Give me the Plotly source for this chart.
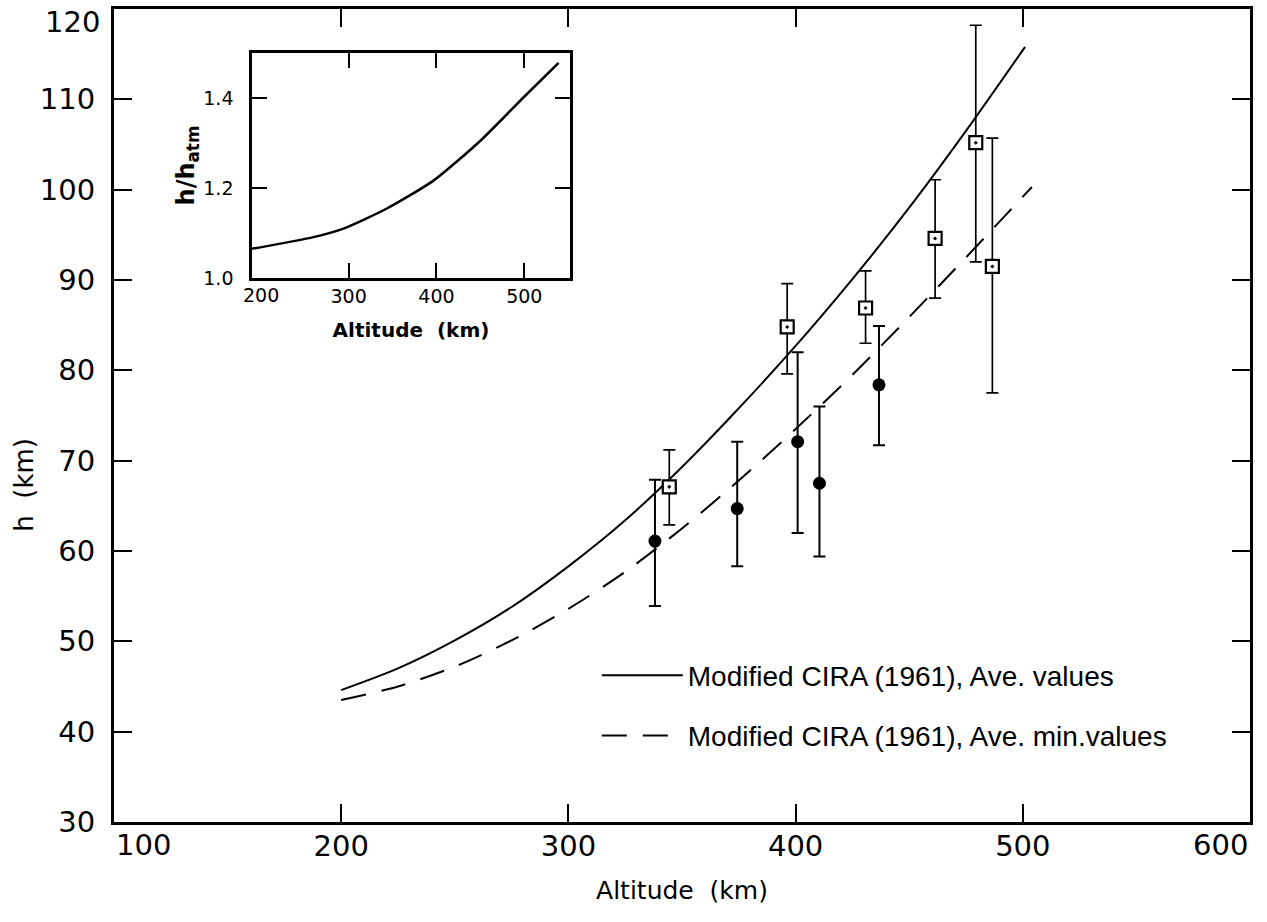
import plotly.graph_objects as go

# ---- data ----
# Main panel model curves
alt_ave = [200, 225, 250, 275, 300, 325, 350, 375, 400, 425, 450, 475, 501]
h_ave = [44.6, 47.0, 50.1, 53.8, 58.3, 63.4, 69.3, 75.8, 82.7, 90.1, 98.0, 106.5, 115.8]
alt_min = [200, 225, 250, 275, 300, 325, 350, 375, 400, 425, 450, 475, 504]
h_min = [43.5, 45.0, 47.2, 50.1, 53.6, 57.7, 62.5, 67.8, 73.5, 79.5, 85.9, 92.5, 100.3]

# Measured values, filled circles
circ_alt = [338.1, 374.3, 400.9, 410.5, 436.7]
circ_h = [61.1, 64.7, 72.1, 67.5, 78.4]
circ_hi = [67.9, 72.1, 82.0, 76.0, 84.9]
circ_lo = [53.9, 58.3, 62.0, 59.4, 71.7]

# Measured values, open squares
sq_alt = [344.4, 396.3, 430.8, 461.4, 479.3, 486.6]
sq_h = [67.1, 84.8, 86.9, 94.6, 105.2, 91.5]
sq_hi = [71.2, 89.6, 91.0, 101.1, 118.2, 105.7]
sq_lo = [62.9, 79.6, 83.0, 88.0, 92.0, 77.5]

# Inset curve h/h_atm
inset_alt = [190, 260, 294, 343, 397, 450, 499, 539]
inset_ratio = [1.065, 1.091, 1.110, 1.154, 1.217, 1.305, 1.401, 1.478]

main_xticks = [200, 300, 400, 500]
main_yticks = [30, 40, 50, 60, 70, 80, 90, 100, 110]
inset_xticks = [300, 400, 500]
inset_yticks = [1.0, 1.2, 1.4]

legend_ave = "Modified CIRA (1961), Ave. values"
legend_min = "Modified CIRA (1961), Ave. min.values"

TICKFONT = dict(family="DejaVu Sans", size=29, color="black")
INSET_TICKFONT = dict(family="DejaVu Sans", size=19, color="black")
TXTFONT = "Liberation Sans"

fig = go.Figure()

fig.add_trace(go.Scatter(
    x=alt_ave, y=h_ave, mode="lines", name=legend_ave,
    line=dict(color="black", width=2, shape="spline", smoothing=0.8),
    legendgroup="a"))
fig.add_trace(go.Scatter(
    x=alt_min, y=h_min, mode="lines", name=legend_min,
    line=dict(color="black", width=2, dash="25px,16px", shape="spline", smoothing=0.8),
    legendgroup="b"))

fig.add_trace(go.Scatter(
    x=circ_alt, y=circ_h, mode="markers", showlegend=False,
    marker=dict(symbol="circle", size=13, color="black"),
    error_y=dict(type="data", symmetric=False,
                 array=[hi - v for hi, v in zip(circ_hi, circ_h)],
                 arrayminus=[v - lo for lo, v in zip(circ_lo, circ_h)],
                 color="black", thickness=2, width=6)))

fig.add_trace(go.Scatter(
    x=sq_alt, y=sq_h, mode="markers", showlegend=False,
    marker=dict(symbol="square-dot", size=13, color="white",
                line=dict(color="black", width=2.2)),
    error_y=dict(type="data", symmetric=False,
                 array=[hi - v for hi, v in zip(sq_hi, sq_h)],
                 arrayminus=[v - lo for lo, v in zip(sq_lo, sq_h)],
                 color="black", thickness=1.7, width=6)))

# Inset
fig.add_trace(go.Scatter(
    x=inset_alt, y=inset_ratio, mode="lines", showlegend=False,
    xaxis="x2", yaxis="y2",
    line=dict(color="black", width=2.5, shape="spline", smoothing=0.6)))

fig.update_layout(
    width=1267, height=922,
    margin=dict(l=114, r=17, t=9, b=100),
    paper_bgcolor="white", plot_bgcolor="white",
    showlegend=True,
    legend=dict(x=0.425, y=0.211, xanchor="left", yanchor="top",
                bgcolor="rgba(0,0,0,0)", itemwidth=81,
                font=dict(family=TXTFONT, size=28, color="black"),
                traceorder="grouped", tracegroupgap=21),
    xaxis=dict(range=[100, 600], tickvals=main_xticks,
               ticks="inside", ticklen=18, tickwidth=2, tickcolor="black",
               showline=True, linewidth=3, linecolor="black", mirror="ticks",
               showgrid=False, zeroline=False, tickfont=TICKFONT,
               ticklabelstandoff=-4, automargin=False,
               title=dict(text="Altitude  (km)", standoff=20,
                          font=dict(family="DejaVu Sans", size=25, color="black"))),
    yaxis=dict(range=[30, 120], tickvals=main_yticks,
               ticks="inside", ticklen=18, tickwidth=2, tickcolor="black",
               showline=True, linewidth=3, linecolor="black", mirror="ticks",
               showgrid=False, zeroline=False, tickfont=TICKFONT,
               ticklabelstandoff=10, ticklabeloverflow="allow", automargin=False),
    xaxis2=dict(domain=[0.1215, 0.4014], anchor="y2", range=[190, 552],
                tickvals=inset_xticks,
                ticks="inside", ticklen=15, tickwidth=2, tickcolor="black",
                showline=True, linewidth=2.5, linecolor="black", mirror="ticks",
                showgrid=False, zeroline=False, tickfont=INSET_TICKFONT,
                ticklabelstandoff=-1, automargin=False,
                title=dict(text="<b>Altitude  (km)</b>", standoff=18,
                           font=dict(family="DejaVu Sans", size=20, color="black"))),
    yaxis2=dict(domain=[0.669, 0.946], anchor="x2", range=[1.0, 1.5],
                tickvals=inset_yticks, ticktext=["1.0", "1.2", "1.4"],
                ticks="inside", ticklen=15, tickwidth=2, tickcolor="black",
                showline=True, linewidth=2.5, linecolor="black", mirror="ticks",
                showgrid=False, zeroline=False, tickfont=INSET_TICKFONT,
                ticklabelstandoff=12, automargin=False,
                title=dict(text="<b>h/h<sub>atm</sub></b>", standoff=0,
                           font=dict(family="DejaVu Sans", size=24, color="black"))),
    annotations=[
        dict(x=100, y=0, xref="x", yref="paper", text="100", showarrow=False,
             xanchor="left", yanchor="top", yshift=-4, font=TICKFONT),
        dict(x=600, y=0, xref="x", yref="paper", text="600", showarrow=False,
             xanchor="right", yanchor="top", yshift=-4, font=TICKFONT),
        dict(x=0, y=120, xref="paper", yref="y", text="120", showarrow=False,
             xanchor="right", yanchor="top", xshift=-12, yshift=6, font=TICKFONT),
        dict(x=200, y=1.0, xref="x2", yref="y2", text="200", showarrow=False,
             xanchor="center", yanchor="top", yshift=-4, font=INSET_TICKFONT),
        dict(x=-0.08, y=0.415, xref="paper", yref="paper", text="h  (km)",
             showarrow=False, textangle=-90, xanchor="center", yanchor="middle",
             font=dict(family="DejaVu Sans", size=26, color="black")),
    ],
)

fig.write_html("out.html", config={"displayModeBar": False},
               post_script="document.body.style.margin='0';")
